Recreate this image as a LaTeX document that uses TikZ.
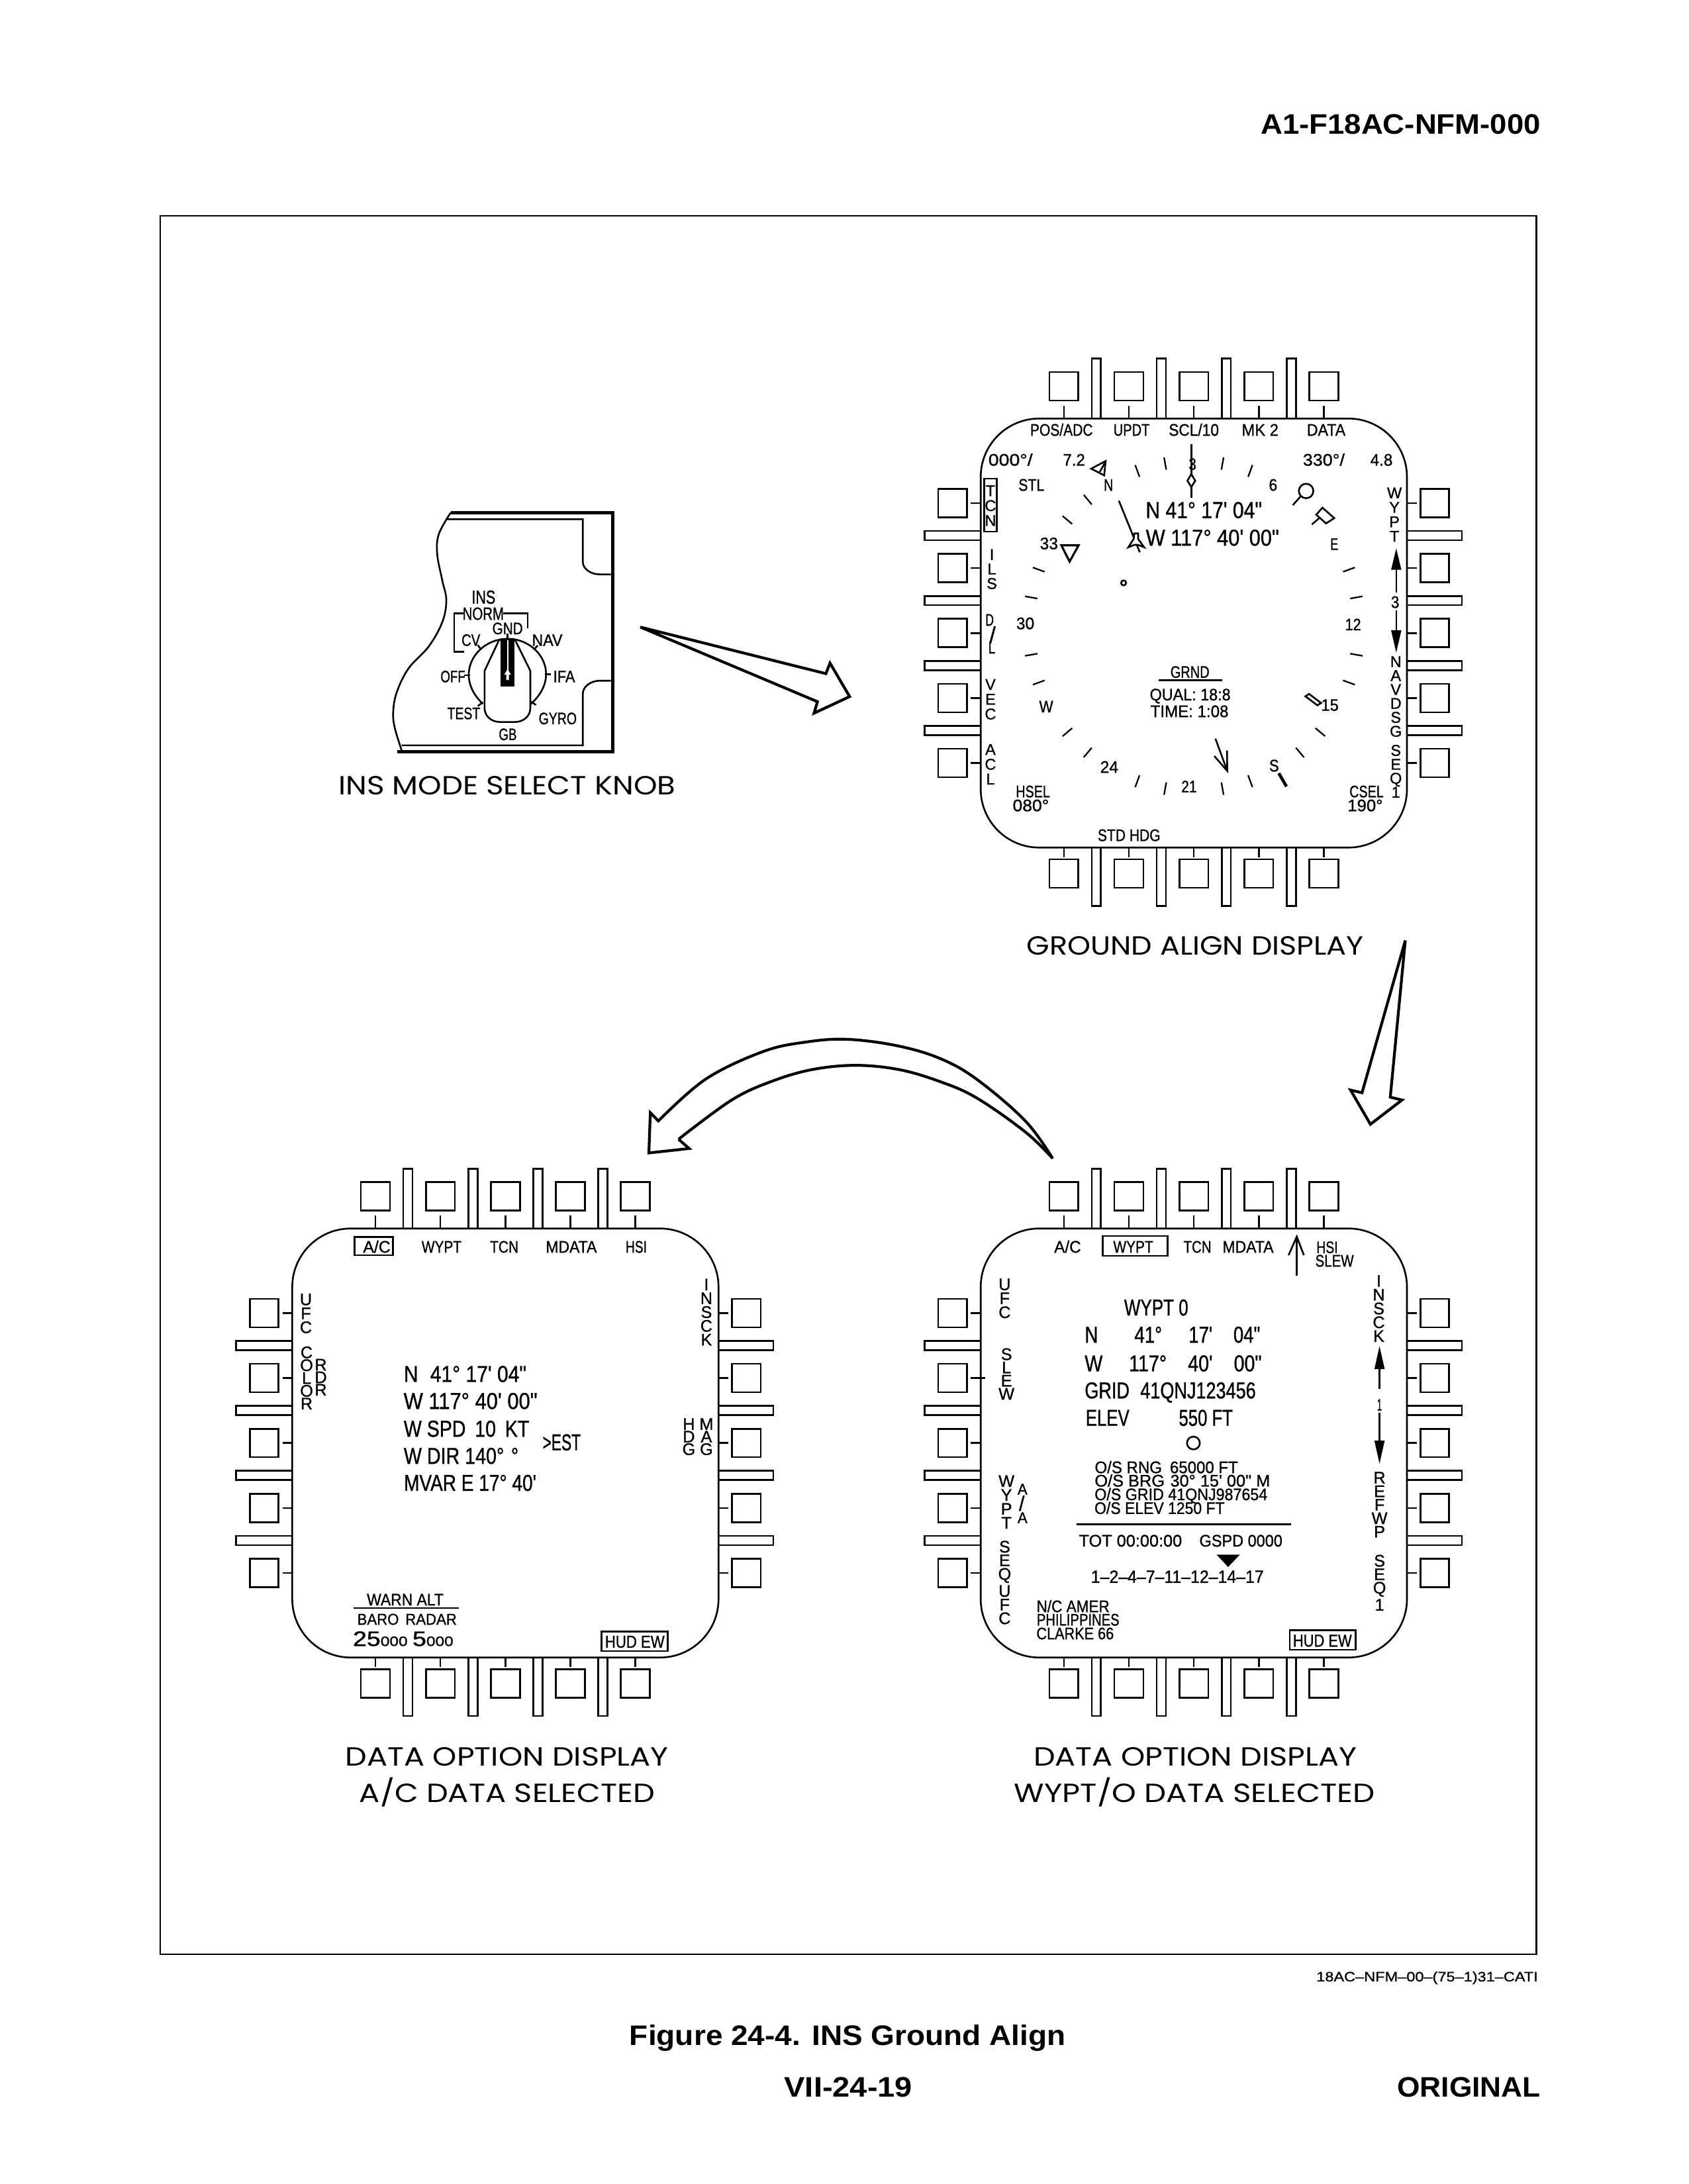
\documentclass[tikz,border=0pt]{standalone}
\usepackage{fontspec}
\setmainfont{Liberation Sans}[Ligatures=TeXOff]
\newfontfamily\lab[FakeBold=1,Ligatures=TeXOff]{Liberation Sans}
\newfontfamily\capfont{Poppins}
\newlength\uu\setlength\uu{0.0210396cm}
\newlength\mylen\newlength\mylenb
\newcounter{nn}
\newcommand\Sx{1}
\newcommand\setfs[1]{\setlength\mylen{#1\uu}\setlength\mylen{1.5\mylen}\fontsize{\mylen}{1.2\mylen}\selectfont}
\newcommand\setfsp[1]{\setlength\mylen{#1\uu}\setlength\mylen{1.397\mylen}\fontsize{\mylen}{1.2\mylen}\selectfont}
\newcommand\setvt[2]{\setlength\mylen{#1\uu}\setlength\mylen{1.6\mylen}\setlength\mylenb{#2\uu}\lab\fontsize{\mylen}{\mylenb}\selectfont}
% centre x, centre y, width, cap height, text
\newcommand\Tx[5]{\stepcounter{nn}\node[lbl,yshift={-0.54*#4*\uu}] (t\thenn) at (#1,#2) {\lab\setfs{#4}\resizebox{#3\uu}{\height}{#5}};}
\newcommand\Tc[5]{\stepcounter{nn}\node[lbl,yshift={-0.5*#4*\uu}] (t\thenn) at (#1,#2) {\capfont\setfsp{#4}\resizebox{#3\uu}{\height}{#5}};}
\newcommand\Tb[5]{\stepcounter{nn}\node[lbl,yshift={-0.5*#4*\uu}] (t\thenn) at (#1,#2) {\bfseries\setfsp{#4}\resizebox{#3\uu}{\height}{#5}};}
% raw crop units: X1 X2 Y cap text
\newcommand\Tz[5]{\pgfmathsetmacro\zc{(#1+#2)/2}\pgfmathsetmacro\zw{(#2-#1)*\Sx}\Tx{\zc}{#3}{\zw}{#4}{#5}}
% stacked: x, y top, cap, step, letters
\newcommand\VT[5]{\stepcounter{nn}\node[lbl,anchor=north,align=center,font={\setvt{#3}{#4}}] (t\thenn) at (#1,#2) {#5};}
\newcommand\MFD[2]{%
 \begin{scope}[shift={(#1,#2)}]
 \foreach \a in {-70,-23.3,23.3,70}{
  \draw[ln] (\a-3.3,-154) -- (\a-3.3,-197) -- (\a+3.3,-197) -- (\a+3.3,-154);
  \draw[ln] (\a-3.3,154) -- (\a-3.3,196) -- (\a+3.3,196) -- (\a+3.3,154);
  \draw[ln] (-153,\a-3.3) -- (-193.3,\a-3.3) -- (-193.3,\a+3.3) -- (-153,\a+3.3);
  \draw[ln] (153,\a-3.3) -- (192.4,\a-3.3) -- (192.4,\a+3.3) -- (153,\a+3.3);
 }
 \foreach \a in {-93.3,-46.65,0,46.65,93.3}{
  \draw[ln] (\a-10.4,-187.3) rectangle (\a+10.4,-167);
  \draw[ln] (\a,-163.2) -- (\a,-154);
  \draw[ln] (\a-10.4,162.5) rectangle (\a+10.4,182.8);
  \draw[ln] (\a,154) -- (\a,161);
  \draw[ln] (-183.5,\a-10.2) rectangle (-162.8,\a+10.2);
  \draw[ln] (-160,\a) -- (-153,\a);
  \draw[ln] (162.6,\a-10.2) rectangle (183.3,\a+10.2);
  \draw[ln] (153,\a) -- (160,\a);
 }
 \draw[ln,rounded corners=42\uu] (-153,-154) rectangle (153,154);
 \end{scope}}
\tikzset{
 ln/.style={line width=1.25\uu,line join=miter},
 hv/.style={line width=2.2\uu,line join=miter},
 blockarrow/.style={line width=2\uu,line join=miter,miter limit=8},
 lbl/.style={inner sep=0pt,outer sep=0pt,anchor=base},
 solidtip/.style={fill=black,draw=none}
}
\begin{document}
\begin{tikzpicture}[x=\uu,y=-\uu]
\useasboundingbox (0,0) rectangle (1212,1568);
\fill[white] (0,0) rectangle (1212,1568);
% frame
\draw[line width=1.2\uu] (115,155) rectangle (1103,1403);
% page text
\Tb{1005.5}{89}{201}{14.5}{A1-F18AC-NFM-000}
\Tx{1024.5}{1419}{159}{6.5}{18AC–NFM–00–(75–1)31–CATI}
\Tb{608.5}{1461}{313}{14.5}{Figure 24-4. INS Ground Align}
\Tb{609}{1498}{92}{14.5}{VII-24-19}
\Tb{1054.5}{1498}{103}{14.5}{ORIGINAL}
% captions
\Tc{364}{564}{242}{13.5}{INS MODE SELECT KNOB}
\Tc{858}{679}{242}{13.5}{GROUND ALIGN DISPLAY}
\Tc{364}{1261}{232}{13.5}{DATA OPTION DISPLAY}
\Tc{364}{1287}{212}{13.5}{A/C DATA SELECTED}
\Tc{858}{1261}{232}{13.5}{DATA OPTION DISPLAY}
\Tc{857.5}{1287}{259}{13.5}{WYPT/O DATA SELECTED}
% knob and first arrow, in the crop's own units
\renewcommand\Sx{.2431}
\begin{scope}[shift={(256.7,342.2)},x=.2431\uu,y=-.1584\uu]
 \draw[ln] plot[smooth,tension=.6] coordinates {(275,163) (240,260) (235,350) (250,470) (262,560) (250,660) (210,770) (150,870) (115,980) (105,1070) (110,1140) (130,1240)};
 \draw[hv] (275,163) -- (753,163) -- (753,1247) -- (118,1247);
 \draw[ln] (265,193) -- (665,193) -- (665,385) .. controls (665,420) and (690,443) .. (715,443) -- (748,443);
 \draw[ln] (748,925) -- (715,925) .. controls (690,925) and (665,950) .. (665,985) -- (665,1218) -- (130,1218);
 % bracket
 \draw[ln] (315,793) -- (285,793) -- (285,620) -- (312,620);
 \draw[ln] (430,620) -- (502,620) -- (502,688);
 % knob body
 \draw[ln] (370,1030) .. controls (280,900) and (350,735) .. (443,735) .. controls (536,735) and (606,900) .. (512,1030);
 \draw[ln,fill=white] (375,1050) -- (375,880) -- (418,740) -- (465,740) -- (510,880) -- (510,1050) .. controls (510,1085) and (490,1112) .. (465,1112) -- (420,1112) .. controls (395,1112) and (375,1085) .. (375,1050) -- cycle;
 \fill[black] (423,733) rectangle (463,950);
 \draw[white,line width=.9\uu] (443,740) -- (443,880);
 \fill[white] (443,872) -- (453,898) -- (447,898) -- (447,922) -- (439,922) -- (439,898) -- (433,898) -- cycle;
 % index ticks
 \draw[ln] (443,710) -- (443,735);
 \draw[ln] (355,763) -- (365,785);
 \draw[ln] (532,765) -- (520,785);
 \draw[ln] (315,900) -- (333,900);
 \draw[ln] (553,895) -- (570,895);
 \draw[ln] (355,1040) -- (370,1022);
 \draw[ln] (527,1035) -- (512,1020);
 % labels
 \Tz{337}{407}{545}{9}{INS}
 \Tz{310}{432}{620}{8.5}{NORM}
 \Tz{398}{488}{687}{8}{GND}
 \Tz{307}{362}{740}{8}{CV}
 \Tz{515}{605}{740}{8}{NAV}
 \Tz{245}{318}{905}{8}{OFF}
 \Tz{578}{642}{905}{8}{IFA}
 \Tz{265}{362}{1072}{8}{TEST}
 \Tz{535}{647}{1095}{8}{GYRO}
 \Tz{417}{470}{1167}{8}{GB}
 % block arrow
 \draw[blockarrow] (835,682) -- (1383,893) -- (1395,845) -- (1453,997) -- (1348,1072) -- (1358,1020) -- cycle;
\end{scope}
% arrow down
\begin{scope}[shift={(941,655.9)},x=.1584\uu,y=-.1584\uu]
 \draw[blockarrow] (428,122) -- (360,832) -- (413,845) -- (270,955) -- (180,800) -- (232,812) -- cycle;
\end{scope}
% curved arrow
\begin{scope}[shift={(446.8,722.4)},x=.2066\uu,y=-.1584\uu]
 \draw[blockarrow] plot[smooth,tension=.6] coordinates {(1495,690) (1400,520) (1230,330) (1100,235) (950,178) (780,150) (640,162) (490,205) (290,330) (125,520)}
   -- (97,483) -- (92,665) -- (232,645) -- (195,603)
   plot[smooth,tension=.6] coordinates {(195,603) (380,425) (520,340) (660,287) (810,268) (960,287) (1100,340) (1230,415) (1400,570) (1495,690)};
\end{scope}
% ========== ground align
\MFD{857}{454.5}
\begin{scope}[shift={(857,454.5)}]
 \Tx{-95}{-146}{45}{8}{POS/ADC}
 \Tx{-44.7}{-146}{26}{8}{UPDT}
 \Tx{0}{-146}{36}{8}{SCL/10}
 \Tx{47.6}{-146}{26.4}{8}{MK 2}
 \Tx{95}{-146}{27.7}{8}{DATA}
 \Tx{-131.6}{-124.5}{31.8}{8}{000°/}
 \Tx{-86}{-124.5}{15.8}{8}{7.2}
 \Tx{93.3}{-124.5}{30}{8}{330°/}
 \Tx{134.7}{-124.5}{16}{8}{4.8}
 \Tx{-116.6}{-106.5}{18.6}{8}{STL}
 \Tx{-61.3}{-106.5}{6.8}{8}{N}
 \Tx{56.9}{-106.5}{6}{8}{6}
 \Tx{7.2}{-88.5}{83.5}{11}{N 41° 17' 04"}
 \Tx{13.4}{-68.7}{95.6}{11}{W 117° 40' 00"}
 \Tx{100.8}{-64}{5.8}{8}{E}
 \Tx{-104}{-64.5}{13}{8}{33}
 \Tx{114.3}{-6.3}{11.4}{8}{12}
 \Tx{-121}{-7.1}{13}{8}{30}
 \Tx{-2.8}{27.8}{28}{8}{GRND}
 \draw[line width=1.5\uu] (-25.3,34) -- (20.2,34);
 \Tx{-2.6}{44}{58}{8}{QUAL: 18:8}
 \Tx{-3.1}{56}{56}{8}{TIME: 1:08}
 \Tx{-106}{52.6}{10}{8}{W}
 \Tx{97.7}{51.5}{12.5}{8}{15}
 \Tx{-60.7}{96}{13}{8}{24}
 \Tx{-3.4}{110}{11}{8}{21}
 \Tx{57.6}{95}{7}{8}{S}
 \Tx{-115.5}{113.6}{24.5}{8}{HSEL}
 \Tx{-117}{123.6}{26}{8}{080°}
 \Tx{124}{113.6}{24.5}{8}{CSEL}
 \Tx{123}{123.6}{25.3}{8}{190°}
 \Tx{-46.5}{145}{45}{8}{STD HDG}
 \Tx{-1}{-121.5}{5.5}{8}{3}
 % stacked
 \draw[ln] (-150.4,-110.8) rectangle (-141.6,-72.9);
 \VT{-146}{-106}{7}{10.7}{T\\C\\N}
 \VT{-145}{-60.2}{7}{10.4}{I\\L\\S}
 \Tx{-146.6}{-9.6}{6}{8}{D}
 \Tx{-144.5}{1.2}{4.5}{11}{/}
 \Tx{-145}{10.3}{5}{8}{L}
 \VT{-146}{33.1}{7}{10.6}{V\\E\\C}
 \VT{-146}{79.8}{7}{10.6}{A\\C\\L}
 \VT{144}{-104.5}{7}{10.4}{W\\Y\\P\\T}
 \VT{145}{16.7}{7}{10}{N\\A\\V\\D\\S\\G}
 \VT{145}{80.3}{7}{10}{S\\E\\Q\\1}
 \Tx{144.5}{-22.4}{6}{8}{3}
 % scale arrows
 \draw[ln] (145.3,-48) -- (145.3,-29.3);
 \fill[solidtip] (145.3,-60.7) -- (149,-45.4) -- (141.6,-45.4) -- cycle;
 \draw[ln] (145.3,-16.5) -- (145.3,0);
 \fill[solidtip] (145.3,14) -- (149,-2) -- (141.6,-2) -- cycle;
 % bearing ticks
 \foreach \t in {-170,-160,-140,-130,-110,-100,-80,-70,-50,-40,-20,-10,10,20,70,80,100,110,130,140,160,170}{
  \draw[line width=1.1\uu] ({114*sin(\t)},{-5-114*cos(\t)}) -- ({123*sin(\t)},{-5-123*cos(\t)});
 }
 \draw[line width=2.2\uu] ({122*sin(150)},{-5-122*cos(150)}) -- ({133*sin(150)},{-5-133*cos(150)});
 % heading marker
 \draw[ln] (-1.8,-135.8) -- (-1.8,-114.1);
 \draw[ln] (-1.8,-114.1) -- (1,-109.4) -- (-1.8,-104.8) -- (-4.6,-109.4) -- cycle;
 \draw[ln] (-1.8,-104.8) -- (-1.8,-97.2);
 % pointer and aircraft
 \draw[ln] (-53.8,-95) -- (-38.8,-58);
 \draw[ln,fill=white] (-42.7,-71.5) -- (-40,-71.5) -- (-40,-67.6) -- (-35.7,-61.6) -- (-40,-63.3) -- (-42.7,-63.3) -- (-47,-61.6) -- (-43.2,-67.6) -- cycle;
 \draw[line width=1.5\uu] (-95.1,-63) -- (-82.7,-63) -- (-89.2,-51.3) -- cycle;
 \draw[ln] (-63.3,-123.5) -- (-73.7,-118) -- (-64.4,-113.2) -- cycle;
 \draw[ln] (-64,-122) -- (-67.6,-115.5);
 \draw[ln] (-50.4,-36) circle (1.8);
 \draw[ln] (80.6,-102) circle (5.2);
 \draw[ln] (76.7,-98.2) -- (71,-91.8);
 \draw[ln] (92.3,-90) -- (100.8,-82.5) -- (94.9,-78.7) -- (87.9,-85) -- cycle;
 \draw[ln] (90,-82.5) -- (84.8,-78);
 \draw[ln] (80.1,45.4) -- (82.7,43.7) -- (91.3,50.2) -- (88.7,51.9) -- cycle;
 % bearing arrow
 \draw[ln] (15.5,75.8) -- (24,99);
 \draw[ln] (14.7,88.3) -- (24,99) -- (23.8,84.3);
\end{scope}
% ========== A/C data
\MFD{362.8}{1036}
\begin{scope}[shift={(362.8,1036)}]
 \draw[ln] (-108.2,-147.8) rectangle (-80.8,-134.9);
 \Tx{-92.3}{-141}{19.7}{8}{A/C}
 \Tx{-45.8}{-141}{28.6}{8}{WYPT}
 \Tx{-0.8}{-141}{20.5}{8}{TCN}
 \Tx{47.3}{-141}{36.6}{8}{MDATA}
 \Tx{93.9}{-141}{15.3}{8}{HSI}
 \VT{144.3}{-117.9}{7.5}{9.9}{I\\N\\S\\C\\K}
 \VT{-143.2}{-107.2}{7.5}{10}{U\\F\\C}
 \VT{-142.7}{-69.3}{7.5}{9.2}{C\\O\\L\\O\\R}
 \VT{-132.5}{-60.3}{7.5}{9}{R\\D\\R}
 \VT{131.7}{-17.7}{7.5}{9}{H\\D\\G}
 \VT{144.3}{-17.7}{7.5}{9}{M\\A\\G}
 \Tx{-28.9}{-49.8}{88}{11}{N\hspace*{10\uu}41° 17' 04"}
 \Tx{-25}{-30.4}{96}{11}{W 117° 40' 00"}
 \Tx{-27.9}{-10.5}{90}{11}{W SPD\hspace*{8\uu}10\hspace*{8\uu}KT}
 \Tx{-31.7}{9}{82.4}{11}{W DIR 140°\hspace*{6\uu}°}
 \Tx{-25.3}{28.4}{95}{11}{MVAR E 17° 40'}
 \Tx{40.4}{-0.7}{27.4}{11}{>EST}
 \Tx{-71.9}{112.3}{55}{8}{WARN ALT}
 \draw[ln] (-109,118.4) -- (-33.5,118.4);
 \Tx{-70.6}{126.4}{71.4}{7.5}{BARO\hspace*{5\uu}RADAR}
 \Tx{-73.4}{140.3}{72.1}{10}{25{\setfs{6.5}000}\hspace*{3\uu}5{\setfs{6.5}000}}
 \draw[ln] (69,135.4) rectangle (116.4,149.3);
 \Tx{92.9}{142.5}{42.7}{8.3}{HUD EW}
\end{scope}
% ========== WYPT data
\MFD{857}{1036}
\begin{scope}[shift={(857,1036)}]
 \Tx{-90.6}{-141}{19.2}{8}{A/C}
 \draw[ln] (-65.5,-148.7) rectangle (-18.9,-134.3);
 \Tx{-43.5}{-141}{28.6}{8}{WYPT}
 \Tx{2.6}{-141}{20}{8}{TCN}
 \Tx{38.9}{-141}{36.6}{8}{MDATA}
 \draw[ln] (73.9,-120) -- (73.9,-148.2);
 \draw[ln] (68,-134.8) -- (73.9,-148.2) -- (79,-134.8);
 \Tx{95.7}{-140.7}{15.4}{8}{HSI}
 \Tx{101}{-131}{27.6}{8}{SLEW}
 \draw[ln] (-160,-46.65) -- (-150,-46.65);
 \VT{-135.8}{-118}{7.5}{10}{U\\F\\C}
 \VT{-134.5}{-68}{7.5}{9.5}{S\\L\\E\\W}
 \VT{132.8}{-120.5}{7.5}{9.9}{I\\N\\S\\C\\K}
 \fill[solidtip] (133.3,-69.6) -- (137,-53) -- (129.6,-53) -- cycle;
 \draw[line width=1.6\uu] (133.3,-53) -- (133.3,-38.9);
 \Tx{133.3}{-27.6}{3.5}{8}{1}
 \draw[line width=1.6\uu] (133.3,-21.8) -- (133.3,-1);
 \fill[solidtip] (133.3,14.8) -- (137,-1.7) -- (129.6,-1.7) -- cycle;
 \Tx{-27}{-97.5}{46}{11}{WYPT 0}
 \Tx{-15.3}{-78}{125.9}{11}{N\hspace*{33\uu}41°\hspace*{24\uu}17'\hspace*{19\uu}04"}
 \Tx{-14.8}{-57.4}{127}{11}{W\hspace*{23\uu}117°\hspace*{18.5\uu}40'\hspace*{18.5\uu}00"}
 \Tx{-16.9}{-38}{122.8}{11}{GRID\hspace*{10\uu}41QNJ123456}
 \Tx{-24.8}{-18.3}{105.6}{11}{ELEV\hspace*{48\uu}550 FT}
 \draw[ln] (-0.3,0) circle (4.6);
 \Tx{-19.7}{17.3}{102.8}{8}{O/S RNG\hspace*{6\uu}65000 FT}
 \Tx{-8.2}{26.9}{125.9}{8}{O/S BRG\hspace*{4\uu}30° 15' 00" M}
 \Tx{-9.2}{36.7}{124}{8}{O/S GRID 41QNJ987654}
 \Tx{-24.6}{46.6}{93.4}{8}{O/S ELEV 1250 FT}
 \draw[line width=1.5\uu] (-84.2,58.4) -- (70,58.4);
 \Tx{-45.5}{70}{74}{8}{TOT 00:00:00}
 \Tx{33.8}{70}{59.6}{8}{GSPD 0000}
 \fill[solidtip] (16.4,80.2) -- (33,80.2) -- (24.6,89) -- cycle;
 \Tx{-11.8}{95.8}{124}{8.5}{1–2–4–7–11–12–14–17}
 \VT{-134.5}{23.2}{7.5}{10}{W\\Y\\P\\T}
 \Tx{-123}{33}{7}{7.5}{A}
 \Tx{-123.5}{43.2}{4}{10}{/}
 \Tx{-123}{53.5}{7}{7.5}{A}
 \VT{-135.8}{70.2}{7.5}{9.8}{S\\E\\Q\\U\\F\\C}
 \Tx{-86.7}{117.1}{52.4}{8}{N/C AMER}
 \Tx{-83.1}{126.7}{59.3}{8}{PHILIPPINES}
 \Tx{-85.2}{136.6}{55.5}{8}{CLARKE 66}
 \VT{133.3}{20.8}{7.5}{9.7}{R\\E\\F\\W\\P}
 \VT{133.3}{80.3}{7.5}{9.7}{S\\E\\Q\\1}
 \draw[ln] (68.8,134.5) rectangle (116.1,148.4);
 \Tx{92.3}{141.7}{42.2}{8.3}{HUD EW}
\end{scope}
\end{tikzpicture}
\end{document}
